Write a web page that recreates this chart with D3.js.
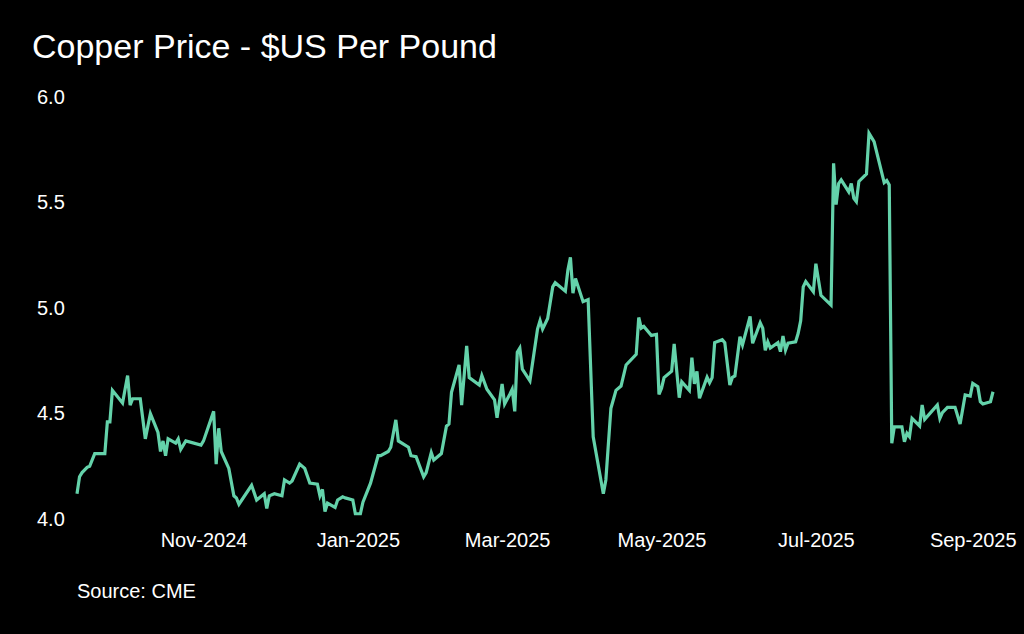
<!DOCTYPE html>
<html>
<head>
    <script src="https://d3js.org/d3.v7.min.js"></script>
    <style>
        html, body { margin: 0; padding: 0; background: #000; }
        svg { display: block; }
    </style>
</head>
<body>
    <script>
        // Copper price, $US per pound
        const dates = [
            '2024-09-12','2024-09-13','2024-09-14','2024-09-16','2024-09-17','2024-09-19','2024-09-21','2024-09-23',
            '2024-09-24','2024-09-25','2024-09-26','2024-09-30','2024-10-02','2024-10-03','2024-10-04','2024-10-07',
            '2024-10-09','2024-10-11','2024-10-14','2024-10-15','2024-10-16','2024-10-17','2024-10-18','2024-10-21',
            '2024-10-22','2024-10-23','2024-10-25','2024-10-31','2024-11-01','2024-11-05','2024-11-06','2024-11-07',
            '2024-11-08','2024-11-11','2024-11-13','2024-11-14','2024-11-15','2024-11-20','2024-11-22','2024-11-25',
            '2024-11-26','2024-11-27','2024-11-29','2024-12-02','2024-12-03','2024-12-05','2024-12-06','2024-12-09',
            '2024-12-11','2024-12-13','2024-12-16','2024-12-17','2024-12-18','2024-12-19','2024-12-20','2024-12-23',
            '2024-12-24','2024-12-26','2024-12-27','2024-12-30','2024-12-31','2025-01-02','2025-01-03','2025-01-06',
            '2025-01-09','2025-01-10','2025-01-13','2025-01-14','2025-01-16','2025-01-17','2025-01-21','2025-01-22',
            '2025-01-24','2025-01-27','2025-01-28','2025-01-30','2025-01-31','2025-02-03','2025-02-05','2025-02-06',
            '2025-02-07','2025-02-10','2025-02-11','2025-02-13','2025-02-14','2025-02-18','2025-02-19','2025-02-21',
            '2025-02-24','2025-02-25','2025-02-27','2025-02-28','2025-03-02','2025-03-03','2025-03-04','2025-03-05',
            '2025-03-06','2025-03-07','2025-03-10','2025-03-13','2025-03-14','2025-03-15','2025-03-17','2025-03-19',
            '2025-03-20','2025-03-24','2025-03-25','2025-03-26','2025-03-27','2025-03-28','2025-03-31','2025-04-02',
            '2025-04-04','2025-04-08','2025-04-09','2025-04-11','2025-04-13','2025-04-15','2025-04-17','2025-04-21',
            '2025-04-22','2025-04-23','2025-04-24','2025-04-27','2025-04-29','2025-04-30','2025-05-01','2025-05-02',
            '2025-05-05','2025-05-06','2025-05-08','2025-05-09','2025-05-12','2025-05-13','2025-05-14','2025-05-15',
            '2025-05-16','2025-05-19','2025-05-20','2025-05-21','2025-05-22','2025-05-25','2025-05-26','2025-05-28',
            '2025-05-29','2025-05-30','2025-06-01','2025-06-02','2025-06-05','2025-06-06','2025-06-09','2025-06-10',
            '2025-06-11','2025-06-12','2025-06-13','2025-06-16','2025-06-17','2025-06-18','2025-06-19','2025-06-20',
            '2025-06-23','2025-06-24','2025-06-25','2025-06-26','2025-06-27','2025-06-30','2025-07-01','2025-07-03',
            '2025-07-07','2025-07-08','2025-07-09','2025-07-10','2025-07-11','2025-07-14','2025-07-15','2025-07-16',
            '2025-07-17','2025-07-18','2025-07-21','2025-07-22','2025-07-24','2025-07-28','2025-07-29','2025-07-30',
            '2025-07-31','2025-08-01','2025-08-04','2025-08-05','2025-08-06','2025-08-07','2025-08-08','2025-08-11',
            '2025-08-12','2025-08-13','2025-08-18','2025-08-19','2025-08-20','2025-08-22','2025-08-25','2025-08-27',
            '2025-08-29','2025-08-31','2025-09-01','2025-09-03','2025-09-04','2025-09-05','2025-09-08','2025-09-09'
        ];

        const prices = [
            4.12, 4.20, 4.22, 4.245, 4.25, 4.31, 4.31, 4.31,
            4.46, 4.46, 4.61, 4.55, 4.68, 4.54, 4.57, 4.57,
            4.38, 4.50, 4.41, 4.32, 4.37, 4.30, 4.38, 4.36,
            4.38, 4.33, 4.37, 4.35, 4.37, 4.51, 4.26, 4.43,
            4.32, 4.24, 4.11, 4.10, 4.07, 4.16, 4.09, 4.12,
            4.05, 4.11, 4.12, 4.11, 4.185, 4.17, 4.18, 4.26,
            4.24, 4.17, 4.165, 4.11, 4.14, 4.035, 4.075, 4.055,
            4.09, 4.105, 4.10, 4.09, 4.025, 4.025, 4.08, 4.17,
            4.30, 4.30, 4.32, 4.34, 4.47, 4.37, 4.34, 4.30,
            4.295, 4.20, 4.22, 4.315, 4.28, 4.31, 4.44, 4.45,
            4.60, 4.73, 4.54, 4.82, 4.67, 4.635, 4.68, 4.615,
            4.565, 4.48, 4.64, 4.545, 4.59, 4.615, 4.51, 4.79,
            4.81, 4.71, 4.655, 4.90, 4.94, 4.90, 4.95, 5.10,
            5.12, 5.08, 5.18, 5.24, 5.07, 5.14, 5.03, 5.04,
            4.39, 4.12, 4.185, 4.525, 4.61, 4.63, 4.73, 4.78,
            4.955, 4.905, 4.913, 4.87, 4.875, 4.59, 4.62, 4.67,
            4.70, 4.83, 4.575, 4.65, 4.61, 4.765, 4.64, 4.70,
            4.572, 4.672, 4.646, 4.67, 4.836, 4.85, 4.836, 4.635,
            4.671, 4.678, 4.864, 4.825, 4.96, 4.833, 4.93, 4.904,
            4.80, 4.84, 4.81, 4.836, 4.793, 4.867, 4.80, 4.833,
            4.84, 4.88, 4.94, 5.10, 5.125, 5.077, 5.21, 5.06,
            5.014, 5.686, 5.49, 5.59, 5.607, 5.55, 5.59, 5.52,
            5.504, 5.60, 5.635, 5.828, 5.788, 5.594, 5.604, 5.583,
            4.359, 4.437, 4.437, 4.366, 4.406, 4.39, 4.477, 4.441,
            4.54, 4.472, 4.54, 4.477, 4.504, 4.529, 4.529, 4.45,
            4.588, 4.583, 4.643, 4.627, 4.556, 4.545, 4.556, 4.603
        ];

        const xTicks = ['2024-11-01', '2025-01-01', '2025-03-01', '2025-05-01', '2025-07-01', '2025-09-01'];
        const yTicks = [4.0, 4.5, 5.0, 5.5, 6.0];

        const parseDate = d3.timeParse('%Y-%m-%d');
        const data = dates.map((d, i) => ({ date: parseDate(d), price: prices[i] }));

        const width = 1024;
        const height = 634;
        const font = '"Liberation Sans", Arial, Helvetica, sans-serif';

        const svg = d3.select('body')
            .append('svg')
            .attr('width', width)
            .attr('height', height)
            .style('background', '#000');

        const x = d3.scaleTime()
            .domain(d3.extent(data, d => d.date))
            .range([77, 993]);

        const y = d3.scaleLinear()
            .domain([4, 6])
            .range([519, 97]);

        // title
        svg.append('text')
            .attr('x', 32)
            .attr('y', 58)
            .attr('fill', '#fff')
            .style('font-family', font)
            .style('font-size', '34px')
            .text('Copper Price - $US Per Pound');

        // y axis, labels only
        const yAxis = svg.append('g')
            .attr('transform', 'translate(37,0)')
            .call(d3.axisLeft(y).tickValues(yTicks).tickFormat(d3.format('.1f')).tickSize(0));
        yAxis.select('.domain').remove();
        yAxis.selectAll('text')
            .attr('x', 0)
            .attr('dy', '0.3em')
            .attr('text-anchor', 'start')
            .attr('fill', '#fff')
            .style('font-family', font)
            .style('font-size', '20px');

        // x axis, labels only
        const xAxis = svg.append('g')
            .attr('transform', 'translate(0,547)')
            .call(d3.axisBottom(x)
                .tickValues(xTicks.map(parseDate))
                .tickFormat(d3.timeFormat('%b-%Y'))
                .tickSize(0));
        xAxis.select('.domain').remove();
        xAxis.selectAll('text')
            .attr('y', 0)
            .attr('dy', 0)
            .attr('fill', '#fff')
            .style('font-family', font)
            .style('font-size', '20px');

        // price line
        const line = d3.line()
            .x(d => x(d.date))
            .y(d => y(d.price));

        svg.append('path')
            .datum(data)
            .attr('fill', 'none')
            .attr('stroke', '#64d2aa')
            .attr('stroke-width', 3.2)
            .attr('d', line);

        // source note
        svg.append('text')
            .attr('x', 77)
            .attr('y', 598)
            .attr('fill', '#fff')
            .style('font-family', font)
            .style('font-size', '20px')
            .text('Source: CME');
    </script>
</body>
</html>
